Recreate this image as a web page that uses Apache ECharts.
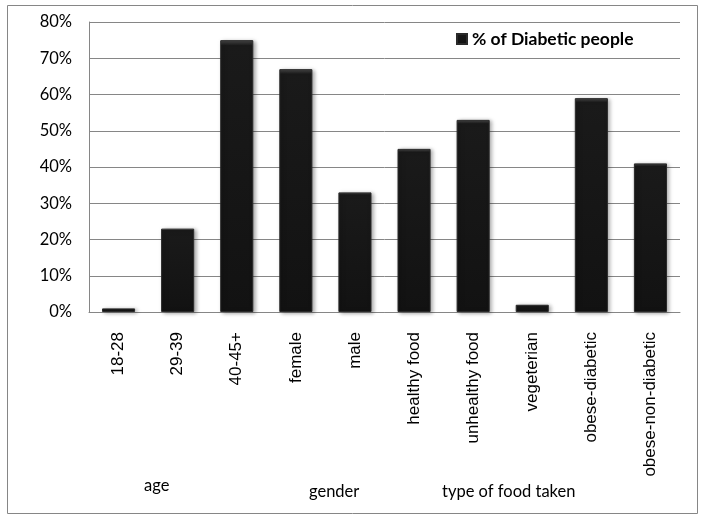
<!DOCTYPE html>
<html><head><meta charset="utf-8">
<script src="https://cdn.jsdelivr.net/npm/echarts@6/dist/echarts.min.js"></script>
<style>html,body{margin:0;padding:0;background:#fff}#c{width:703px;height:520px}</style>
</head><body><div id="c"></div>
<script>
const categories = ['18-28','29-39','40-45+','female','male','healthy food','unhealthy food','vegeterian','obese-diabetic','obese-non-diabetic'];
const diabetic = [1,23,75,67,33,45,53,2,59,41];
const yTicks = [0,10,20,30,40,50,60,70,80];
const groupLabels = [['age',144,477],['gender',309,483],['type of food taken',442,483]];
const seriesName = '% of Diabetic people';

const chart = echarts.init(document.getElementById('c'));
const font = 'Lato, "Noto Sans", sans-serif';
chart.setOption({
  animation:false,
  graphic:[
    {type:'rect',shape:{x:7.5,y:5.5,width:690,height:508},style:{fill:null,stroke:'#868686',lineWidth:1},silent:true},
    ...groupLabels.map(g=>({type:'text',left:g[1],top:g[2],style:{text:g[0],font:'16.5px '+font,fill:'#000'}}))
  ],
  legend:{data:[seriesName],left:451,top:25,itemWidth:10,itemHeight:10,itemGap:5,icon:'rect',
    textStyle:{fontWeight:'bold',fontSize:17.5,fontFamily:font,color:'#000'}},
  grid:{left:89,right:23,top:22,bottom:208,containLabel:false},
  xAxis:{type:'category',data:categories,
    axisLine:{lineStyle:{color:'#868686'}},axisTick:{show:false},
    axisLabel:{rotate:90,interval:0,margin:20,fontSize:17,fontFamily:'"Liberation Sans", Arial, sans-serif',color:'#000'}},
  yAxis:{type:'value',min:yTicks[0],max:yTicks[yTicks.length-1],interval:10,
    axisLine:{show:true,lineStyle:{color:'#868686'}},axisTick:{show:false},
    splitLine:{lineStyle:{color:'#868686'}},
    axisLabel:{formatter:v=>v+'%',fontSize:16.5,fontFamily:font,color:'#000',margin:17}},
  series:[{name:seriesName,type:'bar',data:diabetic,barWidth:'56%',
    itemStyle:{color:{type:'linear',x:0,y:0,x2:0,y2:1,colorStops:[{offset:0,color:'#4a4a4a'},{offset:0.02,color:'#1a1a1a'},{offset:1,color:'#121212'}]},
      borderColor:'#2a2a2a',borderWidth:1,shadowBlur:4,shadowColor:'rgba(0,0,0,0.35)',shadowOffsetX:2,shadowOffsetY:1}}]
});
</script></body></html>
